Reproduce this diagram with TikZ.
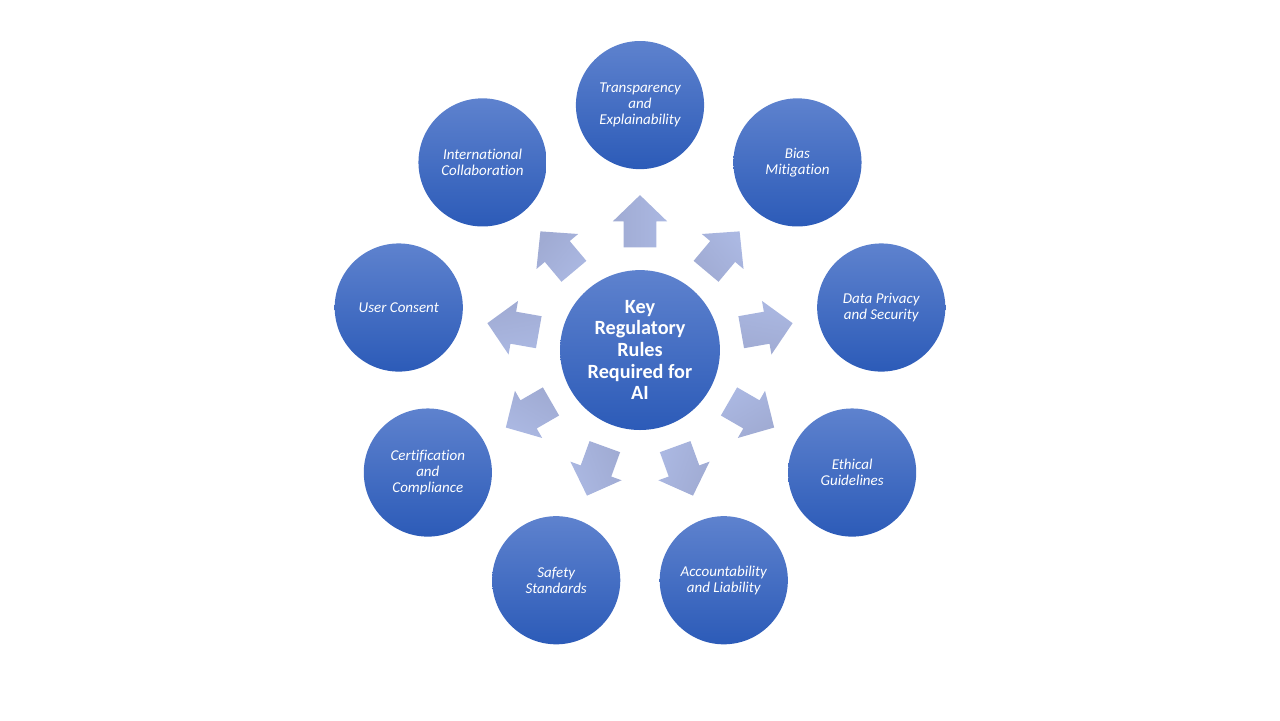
\documentclass[tikz,border=0pt]{standalone}
\usepackage{fontspec}
\setmainfont{Carlito}[Ligatures=NoCommon]
\usepackage{tikz}
\usetikzlibrary{positioning, calc, shapes.arrows}
\usepackage{xcolor}
\definecolor{ringTop}{HTML}{5E82CE}
\definecolor{ringBottom}{HTML}{2C5BB8}
\definecolor{arrowTop}{HTML}{ABB8E2}
\definecolor{arrowBottom}{HTML}{A0ABD3}

\begin{document}
\begin{tikzpicture}[
        hub/.style={circle, top color=ringTop, bottom color=ringBottom, minimum size=4.23cm, inner sep=0pt, align=center, font=\fontsize{15.2}{16.3}\selectfont\bfseries, text=white},
        rule/.style={circle, top color=ringTop, bottom color=ringBottom, minimum size=3.39cm, inner sep=0pt, align=center, font=\fontsize{11.3}{12.1}\selectfont\itshape, text=white},
        blockarrow/.style={single arrow, top color=arrowTop, bottom color=arrowBottom, minimum height=1.38cm, minimum width=1.43cm, single arrow head extend=0.29cm, single arrow tip angle=92, inner xsep=0pt, inner ysep=0.423cm}
      ]
      \useasboundingbox (-16.93,-9.79) rectangle (16.93,9.26);
      \node[hub] (K) {Key\\Regulatory\\Rules\\Required for\\AI};
      \foreach \a/\i/\t in {90/1/{Transparency\\and\\Explainability}, 50/2/{Bias\\Mitigation}, 10/3/{Data Privacy\\and Security}, -30/4/{Ethical\\Guidelines}, -70/5/{Accountability\\and Liability}, -110/6/{Safety\\Standards}, -150/7/{Certification\\and\\Compliance}, 170/8/{User Consent}, 130/9/{International\\Collaboration}} {
         \node[rule] (R\i) at (\a:6.48cm) {\t};
         \node[blockarrow, rotate=\a, shading angle=-\a] (A\i) at ($(K)!0.494!(R\i)$) {};
      }
    \end{tikzpicture}
\end{document}
